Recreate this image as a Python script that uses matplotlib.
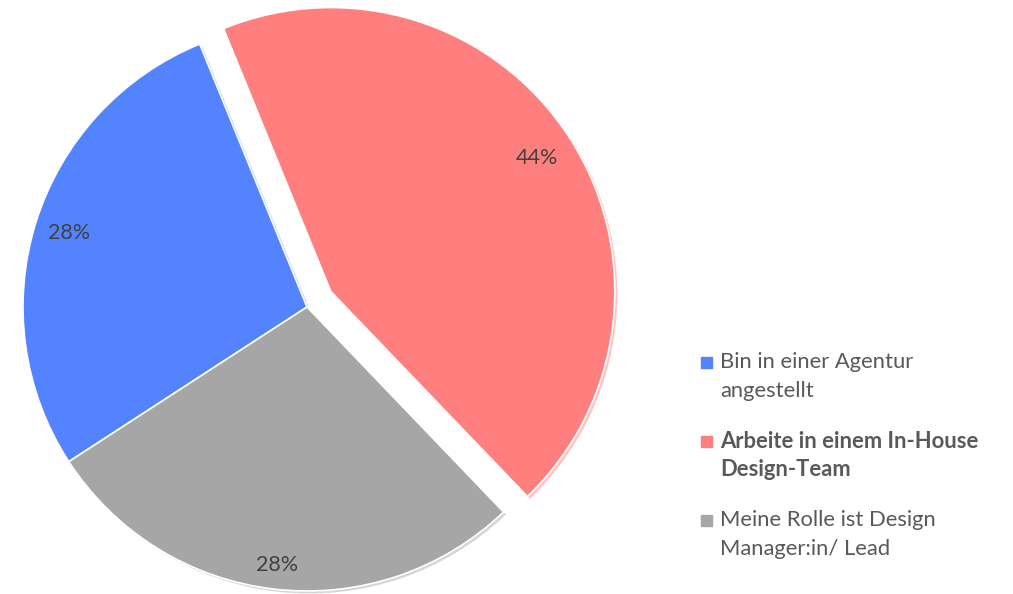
import matplotlib.pyplot as plt
from matplotlib.patches import Rectangle

# -----------------------------
# Data
# -----------------------------
labels = [
    "Bin in einer Agentur\nangestellt",
    "Arbeite in einem In-House\nDesign-Team",
    "Meine Rolle ist Design\nManager:in/ Lead",
]
shares = [28, 44, 28]
colors = ["#5383FF", "#FF7F7F", "#A6A6A6"]
explode = [0, 0.1, 0]
bold_label = [False, True, False]

W, H = 1013, 594
CX, CY = 307, 594 - 307  # pie centre in pixels (from bottom-left)
R = 284                  # pie radius in pixels

plt.rcParams["font.family"] = ["Lato", "DejaVu Sans"]

fig = plt.figure(figsize=(W / 100, H / 100), dpi=100)
ax = fig.add_axes([0, 0, 1, 1])

# faint offset copy of the pie, like the soft shadow in the original
off = 2.5 / R
ax.pie(shares, colors=colors, explode=explode, startangle=213,
       counterclock=False, center=(off, -off),
       wedgeprops=dict(alpha=0.45, linewidth=0))

wedges, _, autotexts = ax.pie(
    shares, colors=colors, explode=explode, startangle=213,
    counterclock=False, autopct="%1.0f%%", pctdistance=0.88,
    wedgeprops=dict(edgecolor="white", linewidth=1.2),
    textprops=dict(color="#404040", fontsize=15.5),
)

# nudge label distances to where they sit in the original
label_dist = [0.877, 0.867, 0.915]
for t, d in zip(autotexts, label_dist):
    x, y = t.get_position()
    t.set_position((x * d / 0.88, y * d / 0.88))

ax.set_xlim(-CX / R, (W - CX) / R)
ax.set_ylim(-CY / R, (H - CY) / R)
ax.set_aspect("auto")
ax.axis("off")

# -----------------------------
# Legend (manual, to match spacing)
# -----------------------------
first_line_y = [362, 441, 520]  # from top, pixels
line_gap = 29
for lab, col, b, y in zip(labels, colors, bold_label, first_line_y):
    fy = 1 - y / H
    fig.patches.append(Rectangle((701 / W, fy - 5.5 / H), 11 / W, 11 / H,
                                 transform=fig.transFigure, color=col,
                                 figure=fig))
    for i, line in enumerate(lab.split("\n")):
        fig.text(720 / W, 1 - (y + i * line_gap) / H, line,
                 ha="left", va="center",
                 fontsize=15.8, color="#595959",
                 fontweight="bold" if b else "normal",
                 transform=fig.transFigure)

fig.savefig("out.png", dpi=100)
